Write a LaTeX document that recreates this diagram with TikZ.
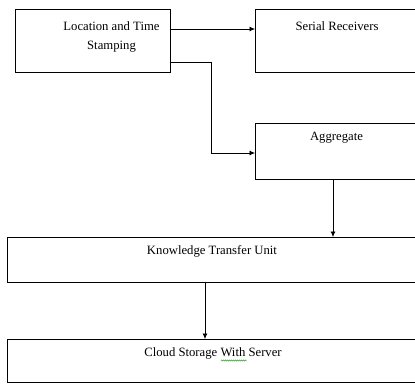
\documentclass[tikz,border=0pt]{standalone}
\usepackage{fontspec}
\setmainfont{Liberation Serif}
\usetikzlibrary{arrows.meta,decorations.pathmorphing}
\tikzset{
  box/.style={draw=black, line width=0.8pt, inner sep=0pt, outer sep=0pt},
  txt/.style={inner sep=0pt, font=\fontsize{12.7}{15}\selectfont, anchor=base},
  arr/.style={draw=black, line width=0.7pt, -{Latex[length=5.5pt,width=5pt]}},
}
\begin{document}
\begin{tikzpicture}[x=1pt,y=-1pt]
\useasboundingbox (0,0) rectangle (415,383);
\clip (0,0) rectangle (415,383);
% boxes
\node[box, minimum width=155pt, minimum height=63pt, anchor=north west] (b1) at (15,9) {};
\node[box, minimum width=175pt, minimum height=63pt, anchor=north west] (b2) at (255,9) {};
\node[box, minimum width=175pt, minimum height=56pt, anchor=north west] (agg) at (255,123) {};
\node[box, minimum width=423pt, minimum height=45pt, anchor=north west] (kt) at (7,237) {};
\node[box, minimum width=423pt, minimum height=43pt, anchor=north west] (cs) at (7,339) {};
% texts
\node[txt] (t1a) at (111.5,30) {Location and Time};
\node[txt] (t1b) at (111.5,49) {Stamping};
\node[txt] (t2) at (337,30) {Serial Receivers};
\node[txt] (t3) at (336.5,140.5) {Aggregate};
\node[txt] (t4) at (212,254) {Knowledge Transfer Unit};
\node[txt] (t5) at (213,356) {Cloud Storage With Server};
% connectors
\draw[arr] ([yshift=-20pt]b1.north east) -- ([yshift=-20pt]b2.north west);
\draw[arr] ([yshift=10pt]b1.south east) -- ++(41,0) |- ([yshift=-30pt]agg.north west);
\draw[arr] ([xshift=78pt]agg.south west) -- ([xshift=78pt]agg.south west |- kt.north);
\draw[arr] ([xshift=198pt]kt.south west) -- ([xshift=198pt]kt.south west |- cs.north);
% spell-check squiggle
\draw[green!60!black, line width=0.4pt, decorate, decoration={snake, amplitude=0.6pt, segment length=2pt}] (221,360.5) -- (246.5,360.5);
\end{tikzpicture}
\end{document}
